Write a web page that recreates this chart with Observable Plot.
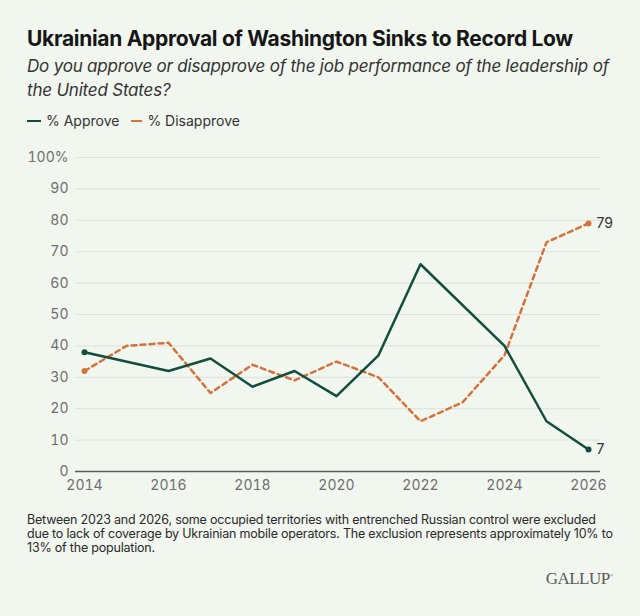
<!DOCTYPE html>
<html>
<head>
<meta charset="utf-8">
<script src="https://cdn.jsdelivr.net/npm/d3@7"></script>
<script src="https://cdn.jsdelivr.net/npm/@observablehq/plot@0.6"></script>
<style>
  html, body { margin: 0; padding: 0; background: #f1f6ef; }
  #wrap { position: relative; width: 640px; height: 616px; background: #f1f6ef; font-family: Inter, "Noto Sans", sans-serif; color: #1c1c1c; overflow: hidden; }
  #title { position: absolute; left: 27px; top: 26px; font-size: 21px; font-weight: 700; letter-spacing: -0.3px; color: #161616; white-space: nowrap; }
  #subtitle { position: absolute; left: 27px; top: 54px; width: 600px; font-size: 17px; font-style: italic; line-height: 24px; color: #333; letter-spacing: -0.2px; }
  #legend { position: absolute; left: 27px; top: 112px; font-size: 14px; color: #333; display: flex; align-items: center; }
  #legend .sw { display: inline-block; width: 14px; height: 0; margin-right: 5px; }
  #chart { position: absolute; left: 0; top: 140px; }
  #caption { position: absolute; left: 27px; top: 513px; font-size: 12.5px; line-height: 14px; color: #2a2a2a; letter-spacing: -0.2px; white-space: nowrap; }
  #logo { position: absolute; right: 27px; top: 569px; font-family: "Liberation Serif", "DejaVu Serif", serif; font-size: 17px; color: #5a5a5a; letter-spacing: -0.5px; }
</style>
</head>
<body>
<div id="wrap">
  <div id="title">Ukrainian Approval of Washington Sinks to Record Low</div>
  <div id="subtitle">Do you approve or disapprove of the job performance of the leadership of the United States?</div>
  <div id="legend">
    <span class="sw" style="border-top: 2.5px solid #124d3e;"></span><span>% Approve</span>
    <span class="sw" style="width: 11px; border-top: 2px dashed #d4763f; margin-left: 12px;"></span><span>% Disapprove</span>
  </div>
  <div id="chart"></div>
  <div id="caption">Between 2023 and 2026, some occupied territories with entrenched Russian control were excluded<br>due to lack of coverage by Ukrainian mobile operators. The exclusion represents approximately 10% to<br>13% of the population.</div>
  <div id="logo">GALLUP<sup style="font-size:5px">®</sup></div>
</div>
<script>
const approveYears = [2014, 2016, 2017, 2018, 2019, 2020, 2021, 2022, 2024, 2025, 2026];
const approveValues = [38, 32, 36, 27, 32, 24, 37, 66, 40, 16, 7];
const disapproveYears = [2014, 2015, 2016, 2017, 2018, 2019, 2020, 2021, 2022, 2023, 2024, 2025, 2026];
const disapproveValues = [32, 40, 41, 25, 34, 29, 35, 30, 16, 22, 37, 73, 79];
const xTicks = [2014, 2016, 2018, 2020, 2022, 2024, 2026];
const yTicks = [0, 10, 20, 30, 40, 50, 60, 70, 80, 90, 100];

const approve = approveYears.map((y, i) => ({year: y, value: approveValues[i]}));
const disapprove = disapproveYears.map((y, i) => ({year: y, value: disapproveValues[i]}));
const green = "#124d3e", orange = "#d2733e";
const ends = [
  {...approve[0], c: green}, {...approve[approve.length - 1], c: green},
  {...disapprove[0], c: orange}, {...disapprove[disapprove.length - 1], c: orange}
];
const lastLabels = [
  {...approve[approve.length - 1], c: green},
  {...disapprove[disapprove.length - 1], c: orange}
];

const chart = Plot.plot({
  width: 640,
  height: 360,
  marginLeft: 75,
  marginRight: 40,
  marginTop: 17,
  marginBottom: 29,
  style: {background: "transparent", fontFamily: "Inter, 'Noto Sans', sans-serif", fontSize: "14px", color: "#6e6e6e"},
  x: {domain: [2013.786, 2026.286], ticks: xTicks, tickFormat: d => String(d), tickSize: 0, tickPadding: 9, label: null},
  y: {domain: [0, 100], ticks: yTicks, tickFormat: d => d === 100 ? "100%" : String(d), tickSize: 0, tickPadding: 7, label: null},
  marks: [
    Plot.ruleY(yTicks.filter(d => d > 0), {stroke: "#dbe2da", strokeWidth: 1}),
    Plot.ruleY([0], {stroke: "#555b57", strokeWidth: 1.5}),
    Plot.axisX({ticks: xTicks, tickFormat: d => String(d), tickSize: 0, tickPadding: 9, fill: "#6e6e6e", fontSize: 14}),
    Plot.axisY({ticks: yTicks, tickFormat: d => d === 100 ? "100%" : String(d), tickSize: 0, tickPadding: 7, fill: "#6e6e6e", fontSize: 14}),
    Plot.line(disapprove, {x: "year", y: "value", stroke: orange, strokeWidth: 2.5, strokeDasharray: "5,4", strokeLinejoin: "round"}),
    Plot.line(approve, {x: "year", y: "value", stroke: green, strokeWidth: 2.5}),
    Plot.dot(ends, {x: "year", y: "value", fill: "c", r: 3}),
    Plot.text(lastLabels, {x: "year", y: "value", text: d => String(d.value), dx: 8, textAnchor: "start", fill: "#333", fontSize: 14})
  ]
});
document.getElementById("chart").appendChild(chart);
</script>
</body>
</html>
